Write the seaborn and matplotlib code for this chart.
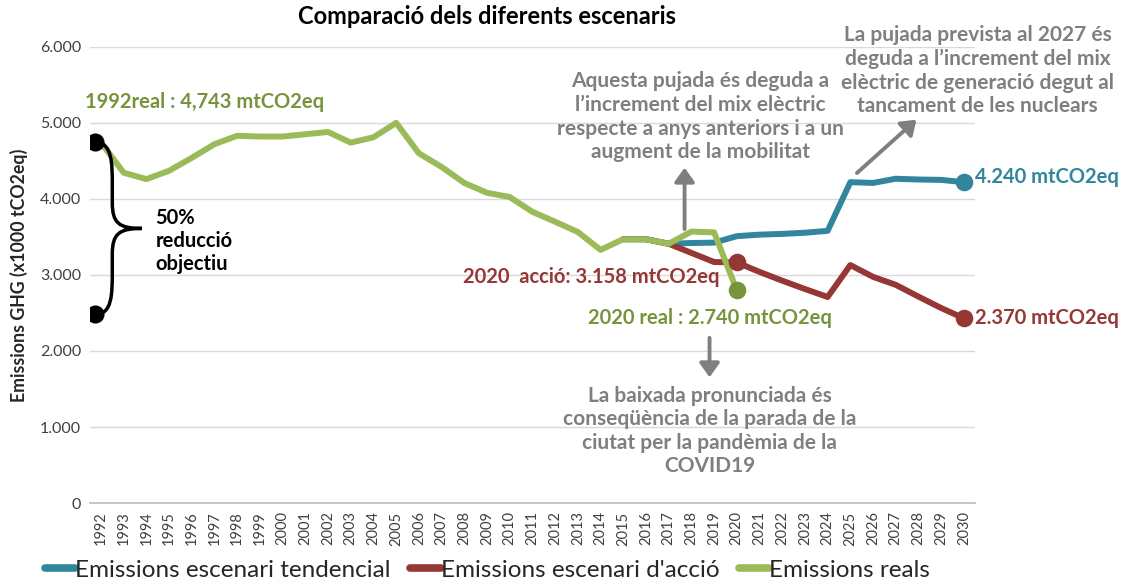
import numpy as np
import pandas as pd
import seaborn as sns
import matplotlib.pyplot as plt
from matplotlib.path import Path
from matplotlib.patches import PathPatch

# data (x1000 tCO2eq)
years_real = list(range(1992, 2021))
real = [4743, 4345, 4260, 4370, 4540, 4720, 4830, 4820, 4820, 4850,
        4880, 4740, 4810, 5000, 4600, 4420, 4210, 4080, 4025, 3830,
        3700, 3565, 3330, 3470, 3470, 3410, 3570, 3560, 2800]

years_scen = list(range(2015, 2031))
tendencial = [3470, 3470, 3410, 3420, 3425, 3510, 3530, 3540, 3555, 3580,
              4220, 4210, 4265, 4255, 4250, 4220]
accio = [3470, 3470, 3410, 3290, 3170, 3165, 3040, 2925, 2815, 2710,
         3130, 2975, 2870, 2715, 2565, 2430]

base_1992 = 4743
target = 2480

all_years = list(range(1992, 2031))

BLUE = "#31859C"
RED = "#953735"
GREEN = "#9BBB59"
DKGREEN = "#77933C"
GRAY = "#7F7F7F"

sns.set_theme(style="white")
plt.rcParams['font.family'] = ['Lato', 'DejaVu Sans']

fig = plt.figure(figsize=(11.34, 5.85), dpi=100)
ax = fig.add_axes([0.079, 0.14, 0.781, 0.78])

df_t = pd.DataFrame({"year": years_scen, "val": tendencial})
df_a = pd.DataFrame({"year": years_scen, "val": accio})
df_r = pd.DataFrame({"year": years_real, "val": real})

sns.lineplot(data=df_t, x="year", y="val", color=BLUE, linewidth=4.3,
             label="Emissions escenari tendencial", ax=ax)
sns.lineplot(data=df_a, x="year", y="val", color=RED, linewidth=4.3,
             label="Emissions escenari d'acció", ax=ax)
sns.lineplot(data=df_r, x="year", y="val", color=GREEN, linewidth=4.3,
             label="Emissions reals", ax=ax)

# highlighted points
sns.scatterplot(x=[2030], y=[tendencial[-1]], color=BLUE, s=160, linewidth=0, ax=ax, zorder=5)
sns.scatterplot(x=[2020, 2030], y=[accio[5], accio[-1]], color=RED, s=160, linewidth=0, ax=ax, zorder=5)
sns.scatterplot(x=[2020], y=[real[-1]], color=DKGREEN, s=160, linewidth=0, ax=ax, zorder=5)
sns.scatterplot(x=[1991.75, 1991.75], y=[base_1992, target], color="black", s=170,
                linewidth=0, ax=ax, zorder=5)

# curly brace between 1992 value and target
x0, x1, x2 = 1991.75, 1992.5, 1993.8
yt, yb = base_1992, target
ym = (yt + yb) / 2
H = yt - yb
verts = [(x0, yt), (x1, yt), (x1, yt - 0.12 * H), (x1, yt - 0.25 * H),
         (x1, ym + 0.15 * H),
         (x1, ym + 0.03 * H), (x1 + 0.3, ym), (x2, ym),
         (x1 + 0.3, ym), (x1, ym - 0.03 * H), (x1, ym - 0.15 * H),
         (x1, yb + 0.25 * H),
         (x1, yb + 0.12 * H), (x1, yb), (x0, yb)]
codes = [Path.MOVETO, Path.CURVE4, Path.CURVE4, Path.CURVE4, Path.LINETO,
         Path.CURVE4, Path.CURVE4, Path.CURVE4,
         Path.CURVE4, Path.CURVE4, Path.CURVE4, Path.LINETO,
         Path.CURVE4, Path.CURVE4, Path.CURVE4]
ax.add_patch(PathPatch(Path(verts, codes), facecolor="none", edgecolor="black", lw=2.5, zorder=4))

ax.set_xlim(1991.5, 2030.5)
ax.set_ylim(0, 6000)
ax.set_xticks(all_years)
ax.set_xticklabels([str(y) for y in all_years], rotation=90, fontsize=10.5, color="#404040")
yt_vals = [0, 1000, 2000, 3000, 4000, 5000, 6000]
ax.set_yticks(yt_vals)
ax.set_yticklabels(["0"] + [f"{v // 1000}.000" for v in yt_vals[1:]], fontsize=11.5, color="#404040")
ax.tick_params(axis="both", length=0, pad=6)
ax.grid(axis="y", color="#D9D9D9", linewidth=1)
for s in ["top", "right", "left"]:
    ax.spines[s].set_visible(False)
ax.spines["bottom"].set_color("#BFBFBF")
ax.set_xlabel("")
ax.set_ylabel("Emissions GHG (x1000 tCO2eq)", fontsize=12.8, fontweight="bold", labelpad=9)
fig.text(487 / 1134, 1 - 17 / 585, "Comparació dels diferents escenaris", fontsize=17,
         fontweight="bold", ha="center", va="center", color="black")

bold = dict(fontweight="bold", fontsize=14.5)
ax.text(1991.3, 5276, "1992real : 4,743 mtCO2eq", color=DKGREEN, ha="left", va="center", **bold)
ax.text(1994.4, 3450, "50%\nreducció\nobjectiu", color="black", ha="left", va="center",
        linespacing=1.2, **bold)
ax.text(2019.25, 2974, "2020  acció: 3.158 mtCO2eq", color=RED, ha="right", va="center", **bold)
ax.text(2018.8, 2434, "2020 real : 2.740 mtCO2eq", color=DKGREEN, ha="center", va="center", **bold)
ax.text(2030.5, 4290, "4.240 mtCO2eq", color=BLUE, ha="left", va="center", **bold)
ax.text(2030.5, 2430, "2.370 mtCO2eq", color=RED, ha="left", va="center", **bold)

gray = dict(fontweight="bold", fontsize=15, color=GRAY, ha="center", va="center", linespacing=1.22)
ax.text(2018.4, 5080, "Aquesta pujada és deguda a\nl\u2019increment del mix elèctric\n"
        "respecte a anys anteriors i a un\naugment de la mobilitat", **gray)
ax.text(2030.6, 5684, "La pujada prevista al 2027 és\ndeguda a l\u2019increment del mix\n"
        "elèctric de generació degut al\ntancament de les nuclears", clip_on=False, **gray)
ax.text(2018.8, 947, "La baixada pronunciada és\nconseqüència de la parada de la\n"
        "ciutat per la pandèmia de la\nCOVID19", **gray)

arrow = dict(arrowstyle="-|>,head_width=0.5,head_length=0.7", color=GRAY, lw=2.8)
ax.annotate("", xy=(2017.7, 4447), xytext=(2017.7, 3566), arrowprops=arrow)
ax.annotate("", xy=(2028.0, 5066), xytext=(2025.2, 4316), arrowprops=arrow)
ax.annotate("", xy=(2018.8, 1618), xytext=(2018.8, 2210), arrowprops=arrow)

handles, labels = ax.get_legend_handles_labels()
ax.legend_.remove()
leg = fig.legend(handles[:3], labels[:3], loc="lower center", bbox_to_anchor=(0.43, -0.03),
                 ncol=3, frameon=False, fontsize=17.5, handlelength=1.25, handletextpad=0.0,
                 columnspacing=0.8)
for h in leg.legend_handles:
    h.set_linewidth(5.5)
    h.set_solid_capstyle("round")

fig.savefig("out.png", dpi=100)
